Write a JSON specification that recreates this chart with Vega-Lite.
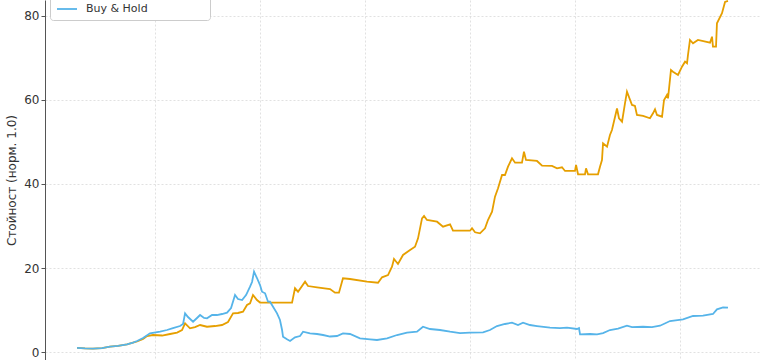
{
  "$schema": "https://vega.github.io/schema/vega-lite/v6.json",
  "autosize": {"type": "none"},
  "padding": {"left": 45, "top": 0, "right": 8, "bottom": 0},
  "width": 715,
  "height": 360,
  "background": "white",
  "config": {
    "view": {"stroke": null},
    "font": "DejaVu Sans",
    "axis": {"labelFont": "DejaVu Sans", "titleFont": "DejaVu Sans"}
  },
  "datasets": {
    "rows": [
      {"t": 2018.257, "series": "Трендова стратегия", "value": 1.0},
      {"t": 2018.333, "series": "Трендова стратегия", "value": 0.85},
      {"t": 2018.409, "series": "Трендова стратегия", "value": 0.8},
      {"t": 2018.495, "series": "Трендова стратегия", "value": 0.95},
      {"t": 2018.571, "series": "Трендова стратегия", "value": 1.26},
      {"t": 2018.648, "series": "Трендова стратегия", "value": 1.48},
      {"t": 2018.733, "series": "Трендова стратегия", "value": 1.83},
      {"t": 2018.790, "series": "Трендова стратегия", "value": 2.26},
      {"t": 2018.829, "series": "Трендова стратегия", "value": 2.5},
      {"t": 2018.886, "series": "Трендова стратегия", "value": 3.1},
      {"t": 2018.924, "series": "Трендова стратегия", "value": 3.81},
      {"t": 2018.981, "series": "Трендова стратегия", "value": 4.05},
      {"t": 2019.067, "series": "Трендова стратегия", "value": 3.93},
      {"t": 2019.143, "series": "Трендова стратегия", "value": 4.29},
      {"t": 2019.210, "series": "Трендова стратегия", "value": 4.64},
      {"t": 2019.257, "series": "Трендова стратегия", "value": 5.24},
      {"t": 2019.286, "series": "Трендова стратегия", "value": 6.83},
      {"t": 2019.333, "series": "Трендова стратегия", "value": 5.64},
      {"t": 2019.381, "series": "Трендова стратегия", "value": 5.95},
      {"t": 2019.429, "series": "Трендова стратегия", "value": 6.43},
      {"t": 2019.495, "series": "Трендова стратегия", "value": 6.02},
      {"t": 2019.571, "series": "Трендова стратегия", "value": 6.19},
      {"t": 2019.638, "series": "Трендова стратегия", "value": 6.43},
      {"t": 2019.695, "series": "Трендова стратегия", "value": 7.14},
      {"t": 2019.743, "series": "Трендова стратегия", "value": 9.21},
      {"t": 2019.790, "series": "Трендова стратегия", "value": 9.29},
      {"t": 2019.838, "series": "Трендова стратегия", "value": 9.6},
      {"t": 2019.876, "series": "Трендова стратегия", "value": 11.19},
      {"t": 2019.905, "series": "Трендова стратегия", "value": 11.6},
      {"t": 2019.933, "series": "Трендова стратегия", "value": 13.57},
      {"t": 2019.971, "series": "Трендова стратегия", "value": 12.38},
      {"t": 2020.000, "series": "Трендова стратегия", "value": 11.79},
      {"t": 2020.143, "series": "Трендова стратегия", "value": 11.74},
      {"t": 2020.305, "series": "Трендова стратегия", "value": 11.74},
      {"t": 2020.333, "series": "Трендова стратегия", "value": 15.17},
      {"t": 2020.362, "series": "Трендова стратегия", "value": 14.36},
      {"t": 2020.429, "series": "Трендова стратегия", "value": 16.74},
      {"t": 2020.457, "series": "Трендова стратегия", "value": 15.71},
      {"t": 2020.543, "series": "Трендова стратегия", "value": 15.4},
      {"t": 2020.667, "series": "Трендова стратегия", "value": 15.0},
      {"t": 2020.714, "series": "Трендова стратегия", "value": 14.12},
      {"t": 2020.752, "series": "Трендова стратегия", "value": 14.12},
      {"t": 2020.790, "series": "Трендова стратегия", "value": 17.55},
      {"t": 2020.857, "series": "Трендова стратегия", "value": 17.38},
      {"t": 2021.019, "series": "Трендова стратегия", "value": 16.74},
      {"t": 2021.124, "series": "Трендова стратегия", "value": 16.5},
      {"t": 2021.162, "series": "Трендова стратегия", "value": 17.79},
      {"t": 2021.219, "series": "Трендова стратегия", "value": 18.33},
      {"t": 2021.257, "series": "Трендова стратегия", "value": 20.31},
      {"t": 2021.276, "series": "Трендова стратегия", "value": 22.14},
      {"t": 2021.314, "series": "Трендова стратегия", "value": 20.95},
      {"t": 2021.362, "series": "Трендова стратегия", "value": 23.1},
      {"t": 2021.429, "series": "Трендова стратегия", "value": 24.29},
      {"t": 2021.476, "series": "Трендова стратегия", "value": 25.07},
      {"t": 2021.505, "series": "Трендова стратегия", "value": 27.07},
      {"t": 2021.543, "series": "Трендова стратегия", "value": 31.83},
      {"t": 2021.562, "series": "Трендова стратегия", "value": 32.38},
      {"t": 2021.590, "series": "Трендова стратегия", "value": 31.43},
      {"t": 2021.686, "series": "Трендова стратегия", "value": 31.02},
      {"t": 2021.743, "series": "Трендова стратегия", "value": 29.83},
      {"t": 2021.810, "series": "Трендова стратегия", "value": 30.4},
      {"t": 2021.838, "series": "Трендова стратегия", "value": 28.88},
      {"t": 2022.000, "series": "Трендова стратегия", "value": 28.88},
      {"t": 2022.019, "series": "Трендова стратегия", "value": 29.45},
      {"t": 2022.048, "series": "Трендова стратегия", "value": 28.5},
      {"t": 2022.095, "series": "Трендова стратегия", "value": 28.26},
      {"t": 2022.143, "series": "Трендова стратегия", "value": 29.45},
      {"t": 2022.171, "series": "Трендова стратегия", "value": 31.43},
      {"t": 2022.210, "series": "Трендова стратегия", "value": 33.4},
      {"t": 2022.238, "series": "Трендова стратегия", "value": 36.98},
      {"t": 2022.267, "series": "Трендова стратегия", "value": 38.98},
      {"t": 2022.305, "series": "Трендова стратегия", "value": 42.14},
      {"t": 2022.333, "series": "Трендова стратегия", "value": 42.14},
      {"t": 2022.362, "series": "Трендова стратегия", "value": 44.12},
      {"t": 2022.400, "series": "Трендова стратегия", "value": 46.12},
      {"t": 2022.429, "series": "Трендова стратегия", "value": 45.07},
      {"t": 2022.495, "series": "Трендова стратегия", "value": 45.07},
      {"t": 2022.514, "series": "Трендова стратегия", "value": 47.69},
      {"t": 2022.533, "series": "Трендова стратегия", "value": 45.71},
      {"t": 2022.638, "series": "Трендова стратегия", "value": 45.48},
      {"t": 2022.686, "series": "Трендова стратегия", "value": 44.36},
      {"t": 2022.781, "series": "Трендова стратегия", "value": 44.29},
      {"t": 2022.829, "series": "Трендова стратегия", "value": 43.74},
      {"t": 2022.876, "series": "Трендова стратегия", "value": 43.98},
      {"t": 2022.905, "series": "Трендова стратегия", "value": 43.1},
      {"t": 2023.000, "series": "Трендова стратегия", "value": 43.1},
      {"t": 2023.010, "series": "Трендова стратегия", "value": 44.52},
      {"t": 2023.029, "series": "Трендова стратегия", "value": 42.31},
      {"t": 2023.095, "series": "Трендова стратегия", "value": 42.31},
      {"t": 2023.105, "series": "Трендова стратегия", "value": 43.74},
      {"t": 2023.124, "series": "Трендова стратегия", "value": 42.31},
      {"t": 2023.219, "series": "Трендова стратегия", "value": 42.31},
      {"t": 2023.238, "series": "Трендова стратегия", "value": 44.12},
      {"t": 2023.257, "series": "Трендова стратегия", "value": 45.71},
      {"t": 2023.267, "series": "Трендова стратегия", "value": 49.69},
      {"t": 2023.305, "series": "Трендова стратегия", "value": 48.88},
      {"t": 2023.333, "series": "Трендова стратегия", "value": 51.67},
      {"t": 2023.352, "series": "Трендова стратегия", "value": 52.86},
      {"t": 2023.400, "series": "Трендова стратегия", "value": 57.98},
      {"t": 2023.419, "series": "Трендова стратегия", "value": 55.64},
      {"t": 2023.448, "series": "Трендова стратегия", "value": 54.83},
      {"t": 2023.476, "series": "Трендова стратегия", "value": 59.21},
      {"t": 2023.495, "series": "Трендова стратегия", "value": 61.98},
      {"t": 2023.543, "series": "Трендова стратегия", "value": 58.81},
      {"t": 2023.571, "series": "Трендова стратегия", "value": 58.57},
      {"t": 2023.590, "series": "Трендова стратегия", "value": 56.43},
      {"t": 2023.648, "series": "Трендова стратегия", "value": 56.19},
      {"t": 2023.714, "series": "Трендова стратегия", "value": 55.64},
      {"t": 2023.743, "series": "Трендова стратегия", "value": 56.83},
      {"t": 2023.762, "series": "Трендова стратегия", "value": 57.79},
      {"t": 2023.781, "series": "Трендова стратегия", "value": 56.43},
      {"t": 2023.829, "series": "Трендова стратегия", "value": 56.02},
      {"t": 2023.848, "series": "Трендова стратегия", "value": 60.0},
      {"t": 2023.876, "series": "Трендова стратегия", "value": 61.19},
      {"t": 2023.886, "series": "Трендова стратегия", "value": 60.4},
      {"t": 2023.914, "series": "Трендова стратегия", "value": 67.14},
      {"t": 2023.933, "series": "Трендова стратегия", "value": 66.74},
      {"t": 2023.981, "series": "Трендова стратегия", "value": 65.95},
      {"t": 2024.019, "series": "Трендова стратегия", "value": 67.93},
      {"t": 2024.048, "series": "Трендова стратегия", "value": 69.12},
      {"t": 2024.067, "series": "Трендова стратегия", "value": 68.74},
      {"t": 2024.076, "series": "Трендова стратегия", "value": 70.71},
      {"t": 2024.095, "series": "Трендова стратегия", "value": 74.29},
      {"t": 2024.124, "series": "Трендова стратегия", "value": 73.5},
      {"t": 2024.171, "series": "Трендова стратегия", "value": 74.29},
      {"t": 2024.286, "series": "Трендова стратегия", "value": 73.64},
      {"t": 2024.305, "series": "Трендова стратегия", "value": 75.07},
      {"t": 2024.314, "series": "Трендова стратегия", "value": 72.69},
      {"t": 2024.343, "series": "Трендова стратегия", "value": 72.69},
      {"t": 2024.352, "series": "Трендова стратегия", "value": 78.26},
      {"t": 2024.400, "series": "Трендова стратегия", "value": 80.64},
      {"t": 2024.429, "series": "Трендова стратегия", "value": 83.33},
      {"t": 2024.457, "series": "Трендова стратегия", "value": 83.57},

      {"t": 2018.257, "series": "Buy & Hold", "value": 1.0},
      {"t": 2018.333, "series": "Buy & Hold", "value": 0.85},
      {"t": 2018.409, "series": "Buy & Hold", "value": 0.8},
      {"t": 2018.495, "series": "Buy & Hold", "value": 0.95},
      {"t": 2018.571, "series": "Buy & Hold", "value": 1.26},
      {"t": 2018.648, "series": "Buy & Hold", "value": 1.48},
      {"t": 2018.733, "series": "Buy & Hold", "value": 1.83},
      {"t": 2018.790, "series": "Buy & Hold", "value": 2.26},
      {"t": 2018.829, "series": "Buy & Hold", "value": 2.62},
      {"t": 2018.886, "series": "Buy & Hold", "value": 3.33},
      {"t": 2018.952, "series": "Buy & Hold", "value": 4.45},
      {"t": 2019.048, "series": "Buy & Hold", "value": 4.83},
      {"t": 2019.114, "series": "Buy & Hold", "value": 5.24},
      {"t": 2019.171, "series": "Buy & Hold", "value": 5.71},
      {"t": 2019.238, "series": "Buy & Hold", "value": 6.19},
      {"t": 2019.267, "series": "Buy & Hold", "value": 6.67},
      {"t": 2019.286, "series": "Buy & Hold", "value": 9.21},
      {"t": 2019.314, "series": "Buy & Hold", "value": 8.33},
      {"t": 2019.362, "series": "Buy & Hold", "value": 7.21},
      {"t": 2019.400, "series": "Buy & Hold", "value": 8.1},
      {"t": 2019.429, "series": "Buy & Hold", "value": 8.81},
      {"t": 2019.467, "series": "Buy & Hold", "value": 8.1},
      {"t": 2019.495, "series": "Buy & Hold", "value": 8.02},
      {"t": 2019.543, "series": "Buy & Hold", "value": 8.81},
      {"t": 2019.590, "series": "Buy & Hold", "value": 8.81},
      {"t": 2019.638, "series": "Buy & Hold", "value": 9.05},
      {"t": 2019.686, "series": "Buy & Hold", "value": 9.36},
      {"t": 2019.724, "series": "Buy & Hold", "value": 10.48},
      {"t": 2019.762, "series": "Buy & Hold", "value": 13.57},
      {"t": 2019.790, "series": "Buy & Hold", "value": 12.62},
      {"t": 2019.829, "series": "Buy & Hold", "value": 12.38},
      {"t": 2019.867, "series": "Buy & Hold", "value": 13.57},
      {"t": 2019.905, "series": "Buy & Hold", "value": 15.55},
      {"t": 2019.924, "series": "Buy & Hold", "value": 16.67},
      {"t": 2019.943, "series": "Buy & Hold", "value": 19.12},
      {"t": 2019.971, "series": "Buy & Hold", "value": 17.62},
      {"t": 2020.000, "series": "Buy & Hold", "value": 15.95},
      {"t": 2020.019, "series": "Buy & Hold", "value": 14.36},
      {"t": 2020.048, "series": "Buy & Hold", "value": 13.98},
      {"t": 2020.076, "series": "Buy & Hold", "value": 11.98},
      {"t": 2020.095, "series": "Buy & Hold", "value": 11.98},
      {"t": 2020.124, "series": "Buy & Hold", "value": 10.79},
      {"t": 2020.162, "series": "Buy & Hold", "value": 9.21},
      {"t": 2020.190, "series": "Buy & Hold", "value": 7.62},
      {"t": 2020.210, "series": "Buy & Hold", "value": 5.24},
      {"t": 2020.219, "series": "Buy & Hold", "value": 3.64},
      {"t": 2020.257, "series": "Buy & Hold", "value": 3.02},
      {"t": 2020.286, "series": "Buy & Hold", "value": 2.62},
      {"t": 2020.333, "series": "Buy & Hold", "value": 3.5},
      {"t": 2020.381, "series": "Buy & Hold", "value": 3.81},
      {"t": 2020.410, "series": "Buy & Hold", "value": 4.83},
      {"t": 2020.476, "series": "Buy & Hold", "value": 4.45},
      {"t": 2020.543, "series": "Buy & Hold", "value": 4.29},
      {"t": 2020.600, "series": "Buy & Hold", "value": 4.05},
      {"t": 2020.667, "series": "Buy & Hold", "value": 3.69},
      {"t": 2020.733, "series": "Buy & Hold", "value": 3.81},
      {"t": 2020.790, "series": "Buy & Hold", "value": 4.45},
      {"t": 2020.857, "series": "Buy & Hold", "value": 4.29},
      {"t": 2020.952, "series": "Buy & Hold", "value": 3.26},
      {"t": 2021.048, "series": "Buy & Hold", "value": 3.02},
      {"t": 2021.114, "series": "Buy & Hold", "value": 2.86},
      {"t": 2021.210, "series": "Buy & Hold", "value": 3.26},
      {"t": 2021.305, "series": "Buy & Hold", "value": 4.05},
      {"t": 2021.400, "series": "Buy & Hold", "value": 4.6},
      {"t": 2021.495, "series": "Buy & Hold", "value": 4.83},
      {"t": 2021.552, "series": "Buy & Hold", "value": 6.02},
      {"t": 2021.619, "series": "Buy & Hold", "value": 5.48},
      {"t": 2021.714, "series": "Buy & Hold", "value": 5.24},
      {"t": 2021.810, "series": "Buy & Hold", "value": 4.83},
      {"t": 2021.905, "series": "Buy & Hold", "value": 4.52},
      {"t": 2022.000, "series": "Buy & Hold", "value": 4.6},
      {"t": 2022.124, "series": "Buy & Hold", "value": 4.69},
      {"t": 2022.190, "series": "Buy & Hold", "value": 5.24},
      {"t": 2022.257, "series": "Buy & Hold", "value": 6.19},
      {"t": 2022.333, "series": "Buy & Hold", "value": 6.67},
      {"t": 2022.400, "series": "Buy & Hold", "value": 6.98},
      {"t": 2022.457, "series": "Buy & Hold", "value": 6.43},
      {"t": 2022.505, "series": "Buy & Hold", "value": 6.98},
      {"t": 2022.571, "series": "Buy & Hold", "value": 6.43},
      {"t": 2022.638, "series": "Buy & Hold", "value": 6.19},
      {"t": 2022.762, "series": "Buy & Hold", "value": 5.79},
      {"t": 2022.857, "series": "Buy & Hold", "value": 5.71},
      {"t": 2022.924, "series": "Buy & Hold", "value": 5.79},
      {"t": 2023.019, "series": "Buy & Hold", "value": 5.48},
      {"t": 2023.038, "series": "Buy & Hold", "value": 5.71},
      {"t": 2023.048, "series": "Buy & Hold", "value": 4.21},
      {"t": 2023.143, "series": "Buy & Hold", "value": 4.29},
      {"t": 2023.210, "series": "Buy & Hold", "value": 4.21},
      {"t": 2023.267, "series": "Buy & Hold", "value": 4.52},
      {"t": 2023.333, "series": "Buy & Hold", "value": 5.24},
      {"t": 2023.410, "series": "Buy & Hold", "value": 5.55},
      {"t": 2023.495, "series": "Buy & Hold", "value": 6.26},
      {"t": 2023.543, "series": "Buy & Hold", "value": 5.95},
      {"t": 2023.648, "series": "Buy & Hold", "value": 6.02},
      {"t": 2023.733, "series": "Buy & Hold", "value": 5.95},
      {"t": 2023.810, "series": "Buy & Hold", "value": 6.26},
      {"t": 2023.905, "series": "Buy & Hold", "value": 7.38},
      {"t": 2024.029, "series": "Buy & Hold", "value": 7.79},
      {"t": 2024.124, "series": "Buy & Hold", "value": 8.57},
      {"t": 2024.219, "series": "Buy & Hold", "value": 8.64},
      {"t": 2024.314, "series": "Buy & Hold", "value": 9.05},
      {"t": 2024.352, "series": "Buy & Hold", "value": 10.17},
      {"t": 2024.410, "series": "Buy & Hold", "value": 10.64},
      {"t": 2024.457, "series": "Buy & Hold", "value": 10.55}
    ]
  },
  "data": {"name": "rows"},
  "mark": {"type": "line", "strokeWidth": 1.8, "clip": true, "interpolate": "linear"},
  "encoding": {
    "x": {
      "field": "t",
      "type": "quantitative",
      "scale": {"domain": [2017.952, 2024.762], "nice": false, "zero": false},
      "axis": {
        "values": [2019, 2020, 2021, 2022, 2023, 2024],
        "labels": false,
        "ticks": false,
        "domain": false,
        "title": null,
        "grid": true,
        "gridColor": "#d9d9d9",
        "gridDash": [2, 2],
        "gridWidth": 0.8
      }
    },
    "y": {
      "field": "value",
      "type": "quantitative",
      "scale": {"domain": [-1.9, 83.8], "nice": false, "zero": false},
      "axis": {
        "values": [0, 20, 40, 60, 80],
        "title": "Стойност (норм. 1.0)",
        "titleFontSize": 12,
        "titleFontWeight": "normal",
        "titleColor": "#333333",
        "titlePadding": 5,
        "labelFontSize": 12,
        "labelColor": "#333333",
        "labelPadding": 2,
        "tickSize": 4,
        "tickColor": "#555555",
        "domainColor": "#555555",
        "domainWidth": 1,
        "grid": true,
        "gridColor": "#d9d9d9",
        "gridDash": [2, 2],
        "gridWidth": 0.8
      }
    },
    "color": {
      "field": "series",
      "type": "nominal",
      "scale": {"domain": ["Трендова стратегия", "Buy & Hold"], "range": ["#E69F00", "#56B4E9"]},
      "legend": {
        "title": null,
        "orient": "none",
        "legendX": 5,
        "legendY": -30,
        "symbolType": "stroke",
        "symbolSize": 400,
        "symbolStrokeWidth": 1.8,
        "labelFontSize": 11,
        "labelColor": "#333333",
        "labelOffset": 8,
        "rowPadding": 6,
        "padding": 6,
        "fillColor": "white",
        "strokeColor": "#cccccc",
        "cornerRadius": 3
      }
    }
  }
}
